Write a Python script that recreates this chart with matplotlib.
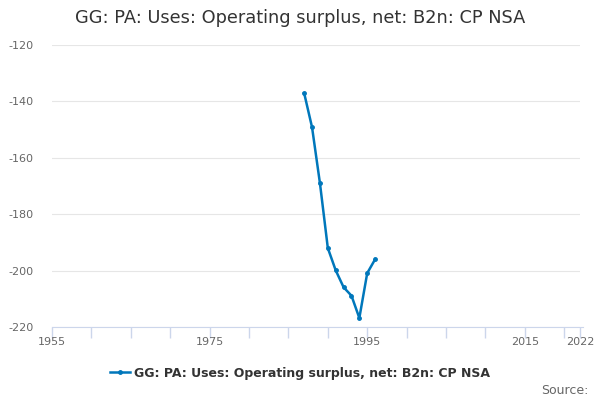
import matplotlib
matplotlib.use("Agg")
import matplotlib.pyplot as plt

years = [1987, 1988, 1989, 1990, 1991, 1992, 1993, 1994, 1995, 1996]
values = [-137.1, -149.2, -169.0, -192.0, -199.9, -205.9, -208.9, -216.8, -200.9, -196.0]
title = "GG: PA: Uses: Operating surplus, net: B2n: CP NSA"
yticks = [-120, -140, -160, -180, -200, -220]
xticks = list(range(1955, 2021, 5)) + [2022]
xlabels_shown = [1955, 1975, 1995, 2015, 2022]

fig = plt.figure(figsize=(6, 4), dpi=100)
ax = fig.add_axes([52/600, 1-327/400, 528/600, 282/400])
color = "#0077bb"
ax.plot(years, values, color=color, lw=1.8, marker="o", ms=2.5, label=title)

ax.set_xlim(1955, 2022)
ax.set_ylim(-220, -120)
ax.set_yticks(yticks)
ax.set_yticklabels([str(v) for v in yticks], color="#666666", fontsize=8)
ax.set_xticks(xticks)
ax.set_xticklabels([str(x) if x in xlabels_shown else "" for x in xticks], color="#666666", fontsize=8)
ax.tick_params(axis="y", length=0, pad=13)
ax.tick_params(axis="x", length=8, color="#ccd6eb", width=1, pad=-1)
ax.grid(axis="y", color="#e6e6e6", lw=0.8)
ax.set_axisbelow(True)
for s in ["top", "right", "left"]:
    ax.spines[s].set_visible(False)
ax.spines["bottom"].set_color("#ccd6eb")
ax.spines["bottom"].set_bounds(1955, 2022.4)

fig.text(0.5, 1-18/400, title, ha="center", va="center", fontsize=12.8, color="#333333")
leg = fig.legend(loc="center", bbox_to_anchor=(0.5, 1-373/400), frameon=False,
                 prop={"weight": "bold", "size": 9}, handlelength=1.6, handletextpad=0.4)
for t in leg.get_texts():
    t.set_color("#333333")
fig.text(589/600, 1-390/400, "Source:", ha="right", va="center", fontsize=9, color="#666666")

fig.savefig("out.png", dpi=100)
